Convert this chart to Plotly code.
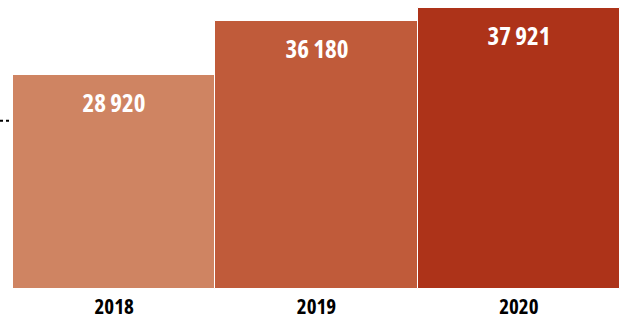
import plotly.graph_objects as go

years = ["2018", "2019", "2020"]
values = [28920, 36180, 37921]
labels = ["28 920", "36 180", "37 921"]
colors = ["#CF8462", "#C05B3A", "#AD3319"]
ref_value = 22700

FONT = "Open Sans"

fig = go.Figure()
fig.add_trace(go.Bar(
    x=years, y=values,
    marker=dict(color=colors, line=dict(color="white", width=1)),
    hoverinfo="skip",
))

for i, (v, t) in enumerate(zip(values, labels)):
    fig.add_annotation(
        x=i, y=v, text="<b>%s</b>" % t, showarrow=False,
        yanchor="top", yshift=-8,
        font=dict(family=FONT, size=25, color="white"),
    )

fig.add_shape(
    type="line", xref="paper", yref="y",
    x0=-0.0214, x1=-0.002, y0=ref_value, y1=ref_value,
    line=dict(color="black", width=2, dash="dot"),
)

fig.update_layout(
    width=620, height=320,
    margin=dict(l=13, r=0, t=0, b=28),
    paper_bgcolor="white", plot_bgcolor="white",
    bargap=0, showlegend=False,
    xaxis=dict(
        type="category",
        range=[-0.5, 2.5], showgrid=False, zeroline=False, showline=False,
        ticks="", tickvals=years, ticktext=["<b>%s</b>" % y for y in years],
        tickfont=dict(family=FONT, size=21, color="black"),
        ticklabelstandoff=3,
    ),
    yaxis=dict(range=[0, 39000], showgrid=False, zeroline=False,
               showticklabels=False, showline=False),
)

js = ("document.documentElement.style.overflow='hidden';"
      "document.body.style.overflow='hidden';"
      "document.body.style.margin='0';"
      "var gd=document.querySelector('.plotly-graph-div');"
      "gd.style.position='fixed';gd.style.left='0px';gd.style.top='0px';"
      "window.scrollTo(0,0);"
      "document.querySelectorAll('.main-svg text').forEach(function(t){"
      "t.style.fontStretch='75%';});")
fig.write_html("out.html", config={"displayModeBar": False}, post_script=js)
